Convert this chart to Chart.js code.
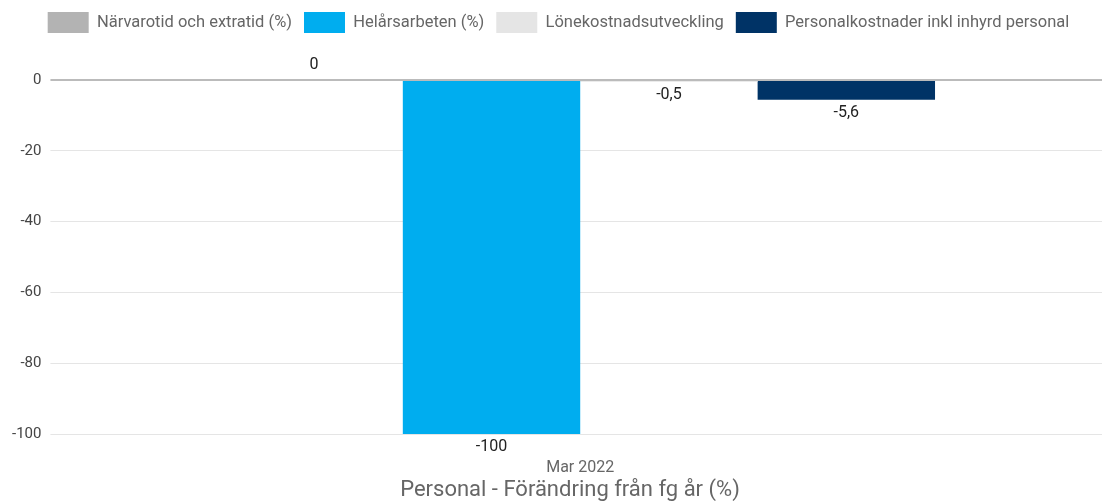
<!DOCTYPE html>
<html>
<head>
<meta charset="utf-8">
<script src="https://cdn.jsdelivr.net/npm/chart.js@4/dist/chart.umd.min.js"></script>
<style>
html,body{margin:0;padding:0;background:#fff;}
#wrap{width:1102px;height:504px;position:relative;}
</style>
</head>
<body>
<div id="wrap"><canvas id="chart"></canvas></div>
<script>
const categories = ["Mar 2022"];
const seriesNames = ["Närvarotid och extratid (%)","Helårsarbeten (%)","Lönekostnadsutveckling","Personalkostnader inkl inhyrd personal"];
const seriesValues = [[0],[-100],[-0.5],[-5.6]];
const seriesColors = ["#b3b3b3","#00adef","#e5e5e5","#003366"];
const titleText = "Personal - Förändring från fg år (%)";

Chart.defaults.font.family = "Roboto, sans-serif";

// extra room under the legend, and nudge it a little to the right
const legendSpace = {
    id:"legendSpace",
    beforeInit(chart){
        const fit = chart.legend.fit;
        chart.legend.fit = function(){
            fit.bind(chart.legend)();
            this.height += 37;
        };
        const draw = chart.legend.draw;
        chart.legend.draw = function(area){
            const c = this.ctx;
            c.save();
            c.translate(6,0);
            draw.call(this, area);
            c.restore();
        };
    }
};

const valueLabels = {
    id:"valueLabels",
    afterDatasetsDraw(chart){
        const c = chart.ctx;
        c.save();
        c.font = "16px Roboto, sans-serif";
        c.fillStyle = "#222";
        c.textAlign = "center";
        c.textBaseline = "middle";
        chart.data.datasets.forEach((ds,i)=>{
            chart.getDatasetMeta(i).data.forEach((bar,j)=>{
                const v = ds.data[j];
                const txt = String(v).replace(".",",");
                const y = v < 0 ? bar.y + 13 : bar.y - 15;
                c.fillText(txt, bar.x, y);
            });
        });
        c.restore();
    }
};

// bottom title, drawn a bit left of the plot centre like the original
const bottomTitle = {
    id:"bottomTitle",
    afterDraw(chart){
        const c = chart.ctx;
        c.save();
        c.font = "22px Roboto, sans-serif";
        c.fillStyle = "#666";
        c.textAlign = "center";
        c.textBaseline = "middle";
        c.fillText(titleText, 570, 490);
        c.restore();
    }
};

const ctx = document.getElementById("chart");

const chart = new Chart(ctx,{
    type:"bar",
    data:{
        labels:categories,
        datasets:seriesNames.map((name,i)=>({
            label:name,
            data:seriesValues[i],
            backgroundColor:seriesColors[i]
        }))
    },
    options:{
        responsive:true,
        maintainAspectRatio:false,
        animation:false,
        layout:{padding:{left:3,right:0,top:0,bottom:28}},
        datasets:{bar:{categoryPercentage:0.68,barPercentage:1}},
        plugins:{
            legend:{
                position:"top",
                align:"center",
                labels:{
                    boxWidth:41,
                    boxHeight:21,
                    padding:12,
                    color:"#666",
                    font:{size:16.5}
                }
            },
            title:{display:false},
            tooltip:{enabled:false}
        },
        scales:{
            x:{
                grid:{display:false,drawTicks:false},
                border:{display:false},
                ticks:{color:"#666",font:{size:16},padding:24},
                afterFit(scale){ scale.height = 42; }
            },
            y:{
                min:-100,
                max:0,
                ticks:{stepSize:20,color:"#444",font:{size:15},padding:9},
                border:{display:false},
                grid:{
                    color:(c)=>c.tick && c.tick.value===0 ? "#bbb" : "#e5e5e5",
                    lineWidth:(c)=>c.tick && c.tick.value===0 ? 2 : 1,
                    tickLength:8
                }
            }
        }
    },
    plugins:[legendSpace,valueLabels,bottomTitle]
});
</script>
</body>
</html>
